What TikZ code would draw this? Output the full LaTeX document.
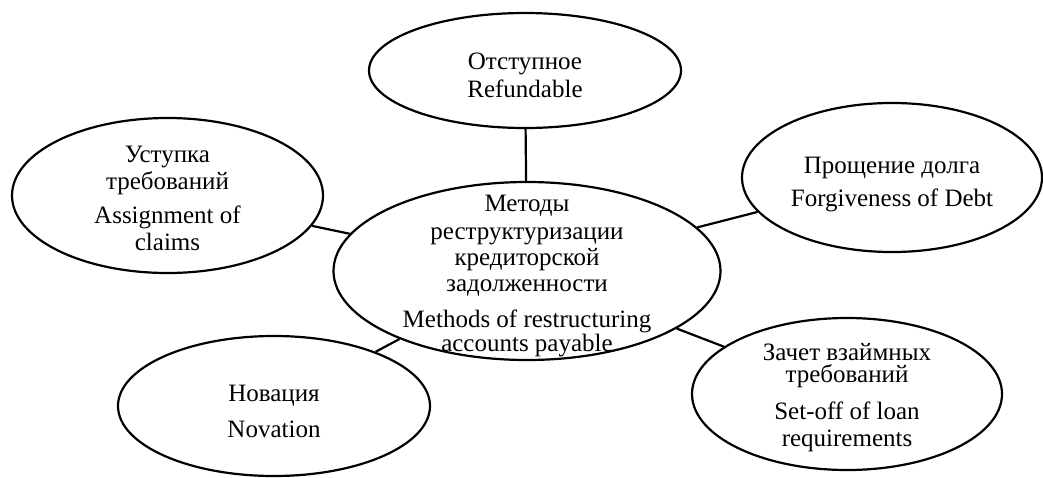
\documentclass[tikz,border=0pt]{standalone}
\usepackage{fontspec}
\setmainfont{Liberation Serif}
\usepackage{tikz}
\usetikzlibrary{
	shapes.geometric
}
\tikzset{
	bubble/.style={
		draw,
		ellipse,
		line width=1.1pt,
		inner sep=0pt
	},
	btext/.style={
		align=center,
		inner sep=0pt,
		font=\fontsize{12.5}{13.5}\selectfont
	}
}

\begin{document}
\begin{tikzpicture}[x=0.5pt,y=-0.5pt]
		\useasboundingbox (0,0) rectangle (1043,477);
		\draw[line width=1.1pt]
			node[bubble,minimum width=193.5pt,minimum height=89pt]   (methods) at (527,271)   {}
			node[bubble,minimum width=156pt,minimum height=57.5pt]   (refund)  at (525,70.5)  {}
			node[bubble,minimum width=155.5pt,minimum height=77.5pt] (assign)  at (167.5,195.5) {}
			node[bubble,minimum width=150pt,minimum height=74.5pt]   (forgive) at (892,177.5) {}
			node[bubble,minimum width=156pt,minimum height=70pt]     (novat)   at (274,406)   {}
			node[bubble,minimum width=155pt,minimum height=76pt]     (setoff)  at (847,394)   {}
			
			(methods) -- (refund)
			(methods) -- (assign)
			(methods) -- (forgive)
			(methods) -- (novat)
			(methods) -- (setoff)
		;
		\node[btext,yshift=-2.4pt] (methodsT) at (methods) {Методы\\[0.5pt]реструктуризации\\[-0.5pt]кредиторской\\[-0.5pt]задолженности\\[4.5pt]Methods of restructuring\\[-1.25pt]accounts payable};
		\node[btext,yshift=-2.5pt] (refundT)  at (refund)  {Отступное\\[0.5pt]Refundable};
		\node[btext,yshift=-1.5pt] (assignT)  at (assign)  {Уступка\\требований\\[3.5pt]Assignment of\\claims};
		\node[btext,yshift=-3.5pt] (forgiveT) at (forgive) {Прощение долга\\[3pt]Forgiveness of Debt};
		\node[btext,yshift=-2.5pt] (novatT)   at (novat)   {Новация\\[4.5pt]Novation};
		\node[btext,yshift=-2pt]   (setoffT)  at (setoff)  {Зачет взаймных\\[-2.5pt]требований\\[5pt]Set-off of loan\\requirements};
	\end{tikzpicture}
\end{document}
